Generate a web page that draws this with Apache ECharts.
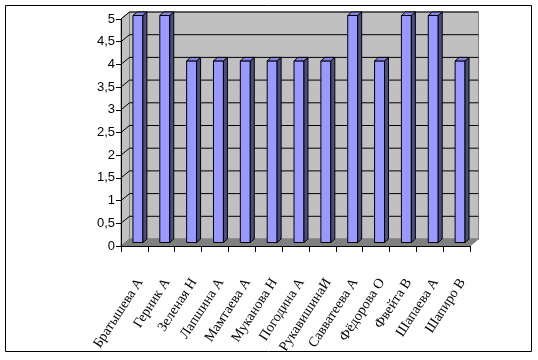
<!DOCTYPE html>
<html>
<head>
<meta charset="utf-8">
<script src="https://cdn.jsdelivr.net/npm/echarts@6/dist/echarts.min.js"></script>
<style>
html,body{margin:0;padding:0;background:#fff;}
#c{width:538px;height:360px;}
</style>
</head>
<body>
<div id="c"></div>
<script>
const categories = ['Братышева А','Герник А','Зеленая Н','Лапшина А','Мамтаева А','Муканова Н','Погодина А','РукавишинаИ','Савватеева А','Фёдорова О','Фвейта В','Шапаева А','Шапиро В'];
const values = [5,5,4,4,4,4,4,4,5,4,5,5,4];
const yTickValues = [0,0.5,1,1.5,2,2.5,3,3.5,4,4.5,5];

const DX = 8.5, DY = -7;      // wall depth offset
const BX = 3.5, BY = -3.5;    // bar front offset (mid depth)
const BDX = 4, BDY = -3.5;    // bar depth

const chart = echarts.init(document.getElementById('c'));

function wallsRender(params, api) {
  const n = categories.length;
  const a0 = api.coord([0, 0]);
  const size = api.size([1, 0])[0];
  const xl = a0[0] - size / 2;
  const xr = xl + size * n;
  const y0 = a0[1];
  const yTop = api.coord([0, yTickValues[yTickValues.length - 1]])[1];
  const children = [];
  children.push({type:'polygon', shape:{points:[[xl+DX,yTop+DY],[xr+DX,yTop+DY],[xr+DX,y0+DY],[xl+DX,y0+DY]]},
    style:{fill:'#c0c0c0', stroke:'#808080', lineWidth:1}});
  children.push({type:'polygon', shape:{points:[[xl,y0],[xl,yTop],[xl+DX,yTop+DY],[xl+DX,y0+DY]]},
    style:{fill:'#c0c0c0', stroke:'#808080', lineWidth:1}});
  children.push({type:'polygon', shape:{points:[[xl,y0],[xl+DX,y0+DY],[xr+DX,y0+DY],[xr,y0]]},
    style:{fill:'#808080', stroke:'#808080', lineWidth:1}});
  yTickValues.forEach(function (v) {
    if (v === 0) return;
    const y = api.coord([0, v])[1];
    children.push({type:'polyline', shape:{points:[[xl,y],[xl+DX,y+DY],[xr+DX,y+DY]]},
      style:{fill:null, stroke:'#000', lineWidth:1}});
  });
  return {type:'group', children: children};
}

function barRender(params, api) {
  const i = api.value(0), v = api.value(1);
  const p0 = api.coord([i, 0]);
  const p1 = api.coord([i, v]);
  const size = api.size([1, 0])[0];
  const w = size * 0.37;
  const x0 = p0[0] - w / 2 + BX;
  const x1 = x0 + w;
  const yb = p0[1] + BY;
  const yt = p1[1] + BY;
  const st = {stroke:'#000', lineWidth:1, lineJoin:'miter'};
  return {type:'group', children:[
    {type:'polygon', shape:{points:[[x0,yb],[x0,yt],[x1,yt],[x1,yb]]}, style:Object.assign({fill:'#9999ff'}, st)},
    {type:'polygon', shape:{points:[[x1,yb],[x1,yt],[x1+BDX,yt+BDY],[x1+BDX,yb+BDY]]}, style:Object.assign({fill:'#4d4d80'}, st)},
    {type:'polygon', shape:{points:[[x0,yt],[x0+BDX,yt+BDY],[x1+BDX,yt+BDY],[x1,yt]]}, style:Object.assign({fill:'#8585e6'}, st)}
  ]};
}

chart.setOption({
  animation: false,
  backgroundColor: '#fff',
  graphic: [{type:'rect', shape:{x:5.5, y:5.5, width:526, height:346}, style:{fill:null, stroke:'#000', lineWidth:1}, z:100}],
  grid: {left:121, top:19, width:349, height:227, containLabel:false, outerBoundsMode:'none'},
  xAxis: {
    type:'category', data:categories, boundaryGap:true, z:10,
    axisLine:{show:true, lineStyle:{color:'#000', width:1}},
    axisTick:{show:true, length:6, alignWithLabel:false, interval:0, lineStyle:{color:'#000'}},
    axisLabel:{interval:0, rotate:57, margin:30, color:'#000', fontFamily:'Liberation Serif', fontSize:14,
      verticalAlign:'top'}
  },
  yAxis: {
    type:'value', min:0, max:5, interval:0.5, z:10,
    axisLine:{show:true, lineStyle:{color:'#000', width:1}},
    axisTick:{show:true, length:5, lineStyle:{color:'#000'}},
    splitLine:{show:false},
    axisLabel:{margin:6, color:'#000', fontFamily:'Liberation Sans', fontSize:13,
      formatter:function (v) { return String(v).replace('.', ','); }}
  },
  series: [
    {type:'custom', renderItem:wallsRender, data:[[0,0]], z:1, silent:true, clip:false},
    {type:'custom', renderItem:barRender, data:values.map(function (v, i) { return [i, v]; }), z:3, clip:false,
      encode:{x:0, y:1}}
  ]
});
</script>
</body>
</html>
